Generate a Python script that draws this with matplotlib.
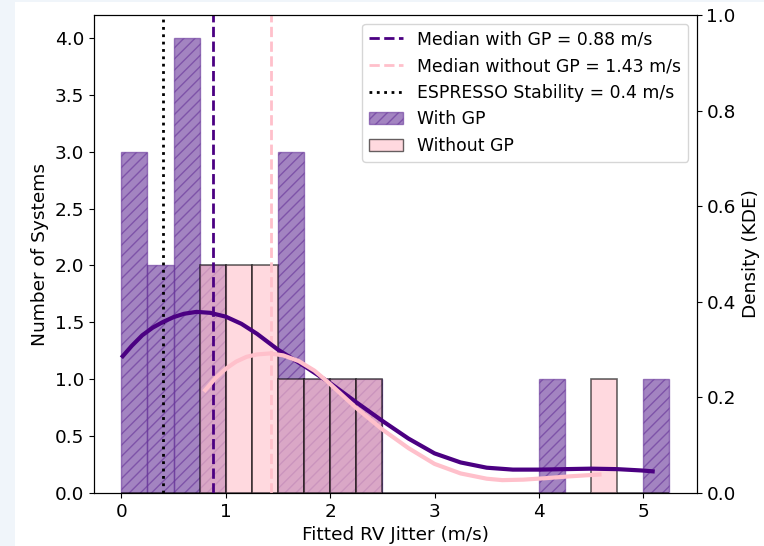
import numpy as np
import matplotlib; matplotlib.use("Agg")
import matplotlib.pyplot as plt
from matplotlib.patches import Patch, Rectangle
from matplotlib.lines import Line2D

# histogram bins (m/s) and counts per bin
BIN_EDGES = [0.0, 0.25, 0.5, 0.75, 1.0, 1.25, 1.5, 1.75, 2.0, 2.25, 2.5, 2.75,
             3.0, 3.25, 3.5, 3.75, 4.0, 4.25, 4.5, 4.75, 5.0, 5.25]
COUNT_GP   = [3, 2, 4, 2, 0, 0, 3, 1, 1, 1, 0, 0, 0, 0, 0, 0, 1, 0, 0, 0, 1]
COUNT_NOGP = [0, 0, 0, 2, 2, 2, 1, 1, 1, 1, 0, 0, 0, 0, 0, 0, 0, 0, 1, 0, 0]

# KDE curves
KDE_GP_X = [0.0, 0.1, 0.2, 0.3, 0.4, 0.5, 0.6, 0.72, 0.85, 1.0, 1.15, 1.3, 1.5,
            1.75, 2.0, 2.25, 2.5, 2.75, 3.0, 3.25, 3.5, 3.75, 4.0, 4.25, 4.5,
            4.75, 5.0, 5.11]
KDE_GP_Y = [0.283, 0.308, 0.330, 0.346, 0.358, 0.368, 0.375, 0.379, 0.377, 0.369,
            0.354, 0.333, 0.300, 0.266, 0.230, 0.190, 0.151, 0.114, 0.083, 0.064,
            0.053, 0.049, 0.049, 0.050, 0.051, 0.050, 0.047, 0.045]
KDE_NOGP_X = [0.79, 0.9, 1.0, 1.1, 1.2, 1.3, 1.42, 1.55, 1.7, 1.85, 2.0, 2.25, 2.5,
              2.75, 3.0, 3.25, 3.5, 3.65, 3.85, 4.06, 4.3, 4.6]
KDE_NOGP_Y = [0.212, 0.240, 0.260, 0.275, 0.285, 0.290, 0.292, 0.288, 0.276, 0.256,
              0.228, 0.178, 0.133, 0.094, 0.061, 0.041, 0.030, 0.027, 0.028, 0.031,
              0.035, 0.039]

MED_GP, MED_NOGP, ESPRESSO = 0.88, 1.43, 0.4

GP_C = "rebeccapurple"; LINE_GP = "indigo"; NOGP_C = "pink"
FS = 13.3

fig = plt.figure(figsize=(7.64, 5.46), dpi=100, facecolor="#f0f5fa")
fig.patches.append(Rectangle((15/764, 0), 1, 1 - 2/546, transform=fig.transFigure,
                             facecolor="white", edgecolor="none", zorder=-10))
ax = fig.add_axes([0.123, 0.097, 0.789, 0.8755])
ax.set_facecolor("white")

edges = np.array(BIN_EDGES)
w = np.diff(edges)
ax.bar(edges[:-1], COUNT_GP, width=w, align="edge", color=GP_C, alpha=0.6,
       edgecolor=GP_C, hatch="///", linewidth=1)
ax.bar(edges[:-1], COUNT_NOGP, width=w, align="edge", color=NOGP_C, alpha=0.6,
       edgecolor="black", linewidth=1.2)

ax.axvline(MED_GP, color=LINE_GP, ls="--", lw=2)
ax.axvline(MED_NOGP, color=NOGP_C, ls="--", lw=2)
ax.axvline(ESPRESSO, color="black", ls=":", lw=2)

ax.set_xlabel("Fitted RV Jitter (m/s)", fontsize=FS)
ax.set_ylabel("Number of Systems", fontsize=FS)
ax.tick_params(labelsize=FS)

ax2 = ax.twinx()
ax2.plot(KDE_GP_X, KDE_GP_Y, color=LINE_GP, lw=3, solid_capstyle="butt")
ax2.plot(KDE_NOGP_X, KDE_NOGP_Y, color=NOGP_C, lw=3, solid_capstyle="butt")
ax2.set_ylim(0, 1)
ax2.set_ylabel("Density (KDE)", fontsize=FS)
ax2.tick_params(labelsize=FS)

handles = [Line2D([], [], color=LINE_GP, ls="--", lw=2),
           Line2D([], [], color=NOGP_C, ls="--", lw=2),
           Line2D([], [], color="black", ls=":", lw=2),
           Patch(facecolor=GP_C, edgecolor=GP_C, alpha=0.6, hatch="///"),
           Patch(facecolor=NOGP_C, edgecolor="black", alpha=0.6)]
labels = [f"Median with GP = {MED_GP:.2f} m/s", f"Median without GP = {MED_NOGP:.2f} m/s",
          f"ESPRESSO Stability = {ESPRESSO} m/s", "With GP", "Without GP"]
ax2.legend(handles, labels, loc="upper right", fontsize=12.4)

fig.savefig("out.png", dpi=100, facecolor=fig.get_facecolor())
